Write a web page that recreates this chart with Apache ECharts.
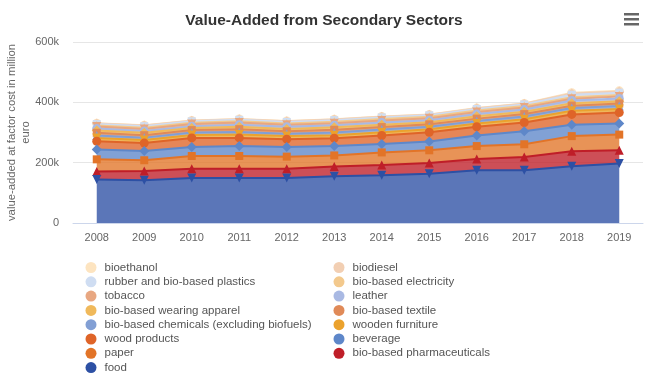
<!DOCTYPE html>
<html>
<head>
<meta charset="utf-8">
<script src="https://cdn.jsdelivr.net/npm/echarts@6/dist/echarts.min.js"></script>
<style>
  html, body { margin: 0; padding: 0; background: #fff; }
  #chart { width: 648px; height: 383px; }
</style>
</head>
<body>
<div id="chart"></div>
<script>
// Value-added at factor cost (million euro), by sector and year
const years = ['2008', '2009', '2010', '2011', '2012', '2013', '2014', '2015', '2016', '2017', '2018', '2019'];

const bioethanol = [1000, 1000, 1000, 1000, 1000, 1000, 1000, 1000, 1000, 1000, 3000, 2000];
const biodiesel = [2000, 2000, 2000, 2000, 2000, 2000, 2000, 2000, 2000, 2000, 4000, 4000];
const rubberPlastics = [5000, 5000, 5000, 5000, 5000, 5000, 5000, 5000, 5000, 5000, 8000, 8000];
const electricity = [3000, 4000, 4000, 4000, 4000, 5000, 5000, 5000, 5000, 5000, 5000, 5000];
const tobacco = [7000, 7000, 7000, 7000, 7000, 7000, 7000, 6000, 7000, 7000, 6000, 6000];
const leather = [6000, 6000, 6000, 7000, 7000, 7000, 7000, 7000, 7000, 7000, 9000, 9000];
const apparel = [8000, 8000, 7000, 8000, 8000, 8000, 8000, 7000, 8000, 8000, 8000, 8000];
const textile = [9000, 8000, 8000, 9000, 8000, 9000, 8000, 8000, 8000, 8000, 8000, 8000];
const chemicals = [8000, 8000, 8000, 9000, 8000, 9000, 9000, 8000, 8000, 9000, 9000, 10000];
const furniture = [11000, 10000, 10000, 11000, 10000, 10000, 11000, 10000, 11000, 11000, 12000, 12000];
const woodProducts = [27000, 26000, 30000, 27000, 26000, 26000, 28000, 31000, 29000, 29000, 34000, 36000];
const beverage = [33000, 31000, 30000, 33000, 32000, 31000, 28000, 29000, 35000, 43000, 38000, 37000];
const paper = [40000, 36000, 42000, 42000, 40000, 37000, 42000, 42000, 43000, 42000, 50000, 52000];
const pharmaceuticals = [27000, 30000, 31000, 31000, 31000, 32000, 34000, 36000, 37000, 44000, 50000, 44000];
const food = [144000, 142000, 149000, 149000, 149000, 155000, 158000, 163000, 175000, 175000, 188000, 197000];

const yTicks = [0, 200000, 400000, 600000];

// Series listed top of stack first (legend order)
const sectors = [
  { name: 'bioethanol', data: bioethanol, color: '#fde4c0', symbol: 'circle' },
  { name: 'biodiesel', data: biodiesel, color: '#f2cfb3', symbol: 'diamond' },
  { name: 'rubber and bio-based plastics', data: rubberPlastics, color: '#cfddf2', symbol: 'rect' },
  { name: 'bio-based electricity', data: electricity, color: '#f3c98d', symbol: 'triangle' },
  { name: 'tobacco', data: tobacco, color: '#e8a781', symbol: 'triangle', rotate: 180 },
  { name: 'leather', data: leather, color: '#a9b9e3', symbol: 'circle' },
  { name: 'bio-based wearing apparel', data: apparel, color: '#f0b95b', symbol: 'diamond' },
  { name: 'bio-based textile', data: textile, color: '#e08a58', symbol: 'rect' },
  { name: 'bio-based chemicals (excluding biofuels)', data: chemicals, color: '#829fd4', symbol: 'triangle' },
  { name: 'wooden furniture', data: furniture, color: '#eba22d', symbol: 'triangle', rotate: 180 },
  { name: 'wood products', data: woodProducts, color: '#df6428', symbol: 'circle' },
  { name: 'beverage', data: beverage, color: '#5e87c9', symbol: 'diamond' },
  { name: 'paper', data: paper, color: '#e27428', symbol: 'rect' },
  { name: 'bio-based pharmaceuticals', data: pharmaceuticals, color: '#bf1e28', symbol: 'triangle' },
  { name: 'food', data: food, color: '#2d50a4', symbol: 'triangle', rotate: 180 }
];

const legendLeft = sectors.filter((s, i) => i % 2 === 0).map(s => s.name);
const legendRight = sectors.filter((s, i) => i % 2 === 1).map(s => s.name);

// Stack from the bottom up: food first
const stackOrder = sectors.slice().reverse();
const series = stackOrder.map((s, i) => ({
  name: s.name,
  type: 'line',
  stack: 'total',
  data: s.data,
  color: s.color,
  z: 40 - i,
  symbol: s.symbol,
  symbolSize: s.symbol === 'rect' ? 8 : (s.symbol === 'diamond' ? 10 : 9),
  symbolRotate: s.rotate || 0,
  showAllSymbol: true,
  lineStyle: { width: 2, color: s.color },
  itemStyle: { color: s.color },
  areaStyle: { color: s.color, opacity: 0.78 },
  emphasis: { disabled: true }
}));

const legendCommon = {
  orient: 'vertical',
  top: 261.5,
  height: 121,
  padding: 0,
  itemWidth: 11,
  itemHeight: 11,
  itemGap: 2.3,
  icon: 'circle',
  selectedMode: false,
  textStyle: { fontSize: 11.5, color: '#555', fontFamily: 'Liberation Sans, Arial, sans-serif', padding: [0, 0, 0, 3] }
};

const chart = echarts.init(document.getElementById('chart'), null, { renderer: 'canvas' });
chart.setOption({
  animation: false,
  backgroundColor: '#ffffff',
  textStyle: { fontFamily: 'Liberation Sans, Arial, sans-serif' },
  title: {
    text: 'Value-Added from Secondary Sectors',
    left: 'center',
    top: 8,
    textStyle: { fontSize: 15.5, fontWeight: 'bold', color: '#333', fontFamily: 'Liberation Sans, Arial, sans-serif' }
  },
  legend: [
    Object.assign({ left: 85.5, data: legendLeft }, legendCommon),
    Object.assign({ left: 333.5, data: legendRight }, legendCommon)
  ],
  grid: { left: 73, right: 5, top: 42, bottom: 160, containLabel: false, outerBoundsMode: 'none' },
  xAxis: {
    type: 'category',
    data: years,
    boundaryGap: true,
    axisLine: { lineStyle: { color: '#ccd6eb' } },
    axisTick: { show: false },
    axisLabel: { color: '#666', fontSize: 11, margin: 9 }
  },
  yAxis: {
    type: 'value',
    min: yTicks[0],
    max: yTicks[yTicks.length - 1],
    interval: yTicks[1] - yTicks[0],
    name: 'value-added at factor cost in million\neuro',
    nameLocation: 'middle',
    nameRotate: 90,
    nameGap: 40,
    nameMoveOverlap: false,
    nameTextStyle: { color: '#666', fontSize: 11.3, lineHeight: 14 },
    axisLine: { show: false },
    axisTick: { show: false },
    axisLabel: {
      color: '#666',
      fontSize: 11,
      margin: 14,
      formatter: v => (v === 0 ? '0' : (v / 1000) + 'k')
    },
    splitLine: { lineStyle: { color: '#e6e6e6' } }
  },
  graphic: [{
    type: 'group',
    right: 9,
    top: 13,
    children: [
      { type: 'rect', shape: { x: 0, y: 0, width: 15, height: 2.5 }, style: { fill: '#666' } },
      { type: 'rect', shape: { x: 0, y: 5, width: 15, height: 2.5 }, style: { fill: '#666' } },
      { type: 'rect', shape: { x: 0, y: 10, width: 15, height: 2.5 }, style: { fill: '#666' } }
    ]
  }],
  series: series
});
</script>
</body>
</html>
